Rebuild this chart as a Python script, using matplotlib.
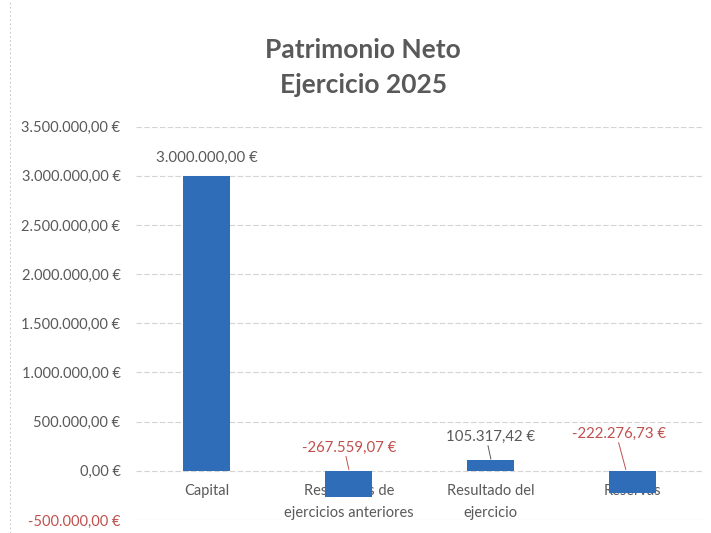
import matplotlib.pyplot as plt
from matplotlib.ticker import FuncFormatter

plt.rcParams['font.family'] = ['Lato', 'DejaVu Sans']

categorias = ['Capital', 'Resultados de\nejercicios anteriores', 'Resultado del\nejercicio', 'Reservas']
valores = [3000000.00, -267559.07, 105317.42, -222276.73]
y_ticks = [-500000, 0, 500000, 1000000, 1500000, 2000000, 2500000, 3000000, 3500000]
# where the data labels sit (Excel moved them by hand)
label_y = [3110000, 160000, 270000, 300000]

azul = '#2F6DB8'
gris = '#595959'
rojo = '#C0504D'


def euro(v):
    s = f'{abs(v):,.2f}'.replace(',', 'X').replace('.', ',').replace('X', '.')
    return ('-' if v < 0 else '') + s + ' €'


fig = plt.figure(figsize=(7.11, 5.33), dpi=100)
ax = fig.add_axes([0.191, 0.0244, 0.799, 0.738])

x = range(len(categorias))
ax.bar(x, valores, width=0.33, color=azul, zorder=3)

ax.set_xlim(-0.5, 3.5)
ax.set_ylim(-500000, 3500000)
ax.set_yticks(y_ticks)
ax.yaxis.set_major_formatter(FuncFormatter(lambda v, p: euro(v)))
ax.set_xticks([])
ax.tick_params(axis='y', length=0, labelsize=10.5, labelcolor=gris, pad=11)
for t, v in zip(ax.get_yticklabels(), y_ticks):
    if v < 0:
        t.set_color(rojo)

# category names sit just under the zero line, bars drawn over them
for i, c in enumerate(categorias):
    ax.text(i, -130000, c, ha='center', va='top', fontsize=10.5, color=gris,
            linespacing=1.75, zorder=1)

for s in ax.spines.values():
    s.set_visible(False)
ax.grid(axis='y', color='#d4d4d4', linewidth=0.8, linestyle=(0, (5, 2)), zorder=0)
ax.set_axisbelow(True)

for i, (v, ly) in enumerate(zip(valores, label_y)):
    col = rojo if v < 0 else gris
    ax.text(i - (0.1 if i == 3 else 0), ly, euro(v), ha='center', va='bottom',
            fontsize=10.8, color=col, zorder=4)
    if i > 0:
        top = max(v, 0)
        ax.plot([i - (0.1 if i == 3 else 0.02), i - (0.05 if i == 3 else 0)],
                [ly - 15000, top + 15000],
                color=gris if v > 0 else rojo, linewidth=0.7, zorder=4)

fig.text(0.511, 0.906, 'Patrimonio Neto', ha='center', va='center',
         fontsize=19, fontweight='bold', color=gris)
fig.text(0.511, 0.841, 'Ejercicio 2025', ha='center', va='center',
         fontsize=19, fontweight='bold', color=gris)

fig.add_artist(plt.Line2D([0.014, 0.014], [0.0, 1.0], color='#bbbbbb',
                          linewidth=0.6, linestyle=(0, (2, 3))))

fig.savefig('out.png', dpi=100)
